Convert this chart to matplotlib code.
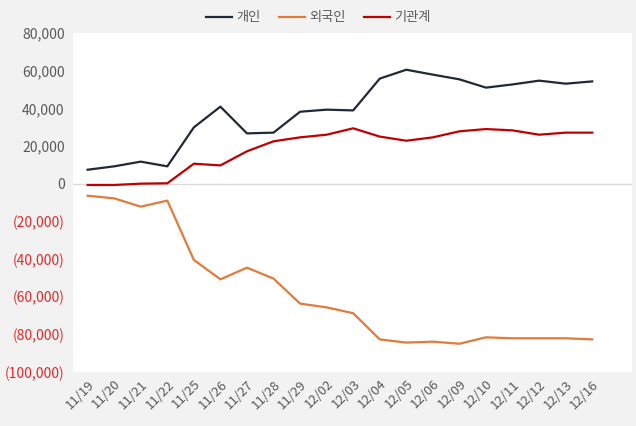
import matplotlib
matplotlib.use('Agg')
import matplotlib.pyplot as plt
from matplotlib.ticker import FuncFormatter

plt.rcParams['font.family'] = ['Noto Sans CJK KR', 'DejaVu Sans']

# === Data ===
dates = ['11/19', '11/20', '11/21', '11/22', '11/25', '11/26', '11/27', '11/28', '11/29', '12/02',
         '12/03', '12/04', '12/05', '12/06', '12/09', '12/10', '12/11', '12/12', '12/13', '12/16']
individual = [7400, 9200, 11700, 9200, 29900, 40900, 26700, 27100, 38200, 39300,
              38900, 55800, 60500, 57900, 55400, 51000, 52700, 54700, 53100, 54300]
foreign = [-6400, -7800, -12200, -9000, -40500, -50800, -44600, -50400, -63700, -65700,
           -68800, -82700, -84400, -83900, -85000, -81600, -82100, -82100, -82100, -82700]
institution = [-700, -700, 0, 200, 10600, 9700, 17200, 22500, 24600, 26000,
               29400, 25000, 22800, 24600, 27800, 29000, 28300, 26000, 27100, 27100]
series_names = ['개인', '외국인', '기관계']

# === Plot ===
fig = plt.figure(figsize=(6.36, 4.26), dpi=100, facecolor='#f2f2f2')
ax = fig.add_axes([0.1148, 0.1268, 0.879, 0.7957])
ax.set_facecolor('white')

x = list(range(len(dates)))
lines = []
for vals, color, name in zip([individual, foreign, institution],
                             ['#1f2937', '#e07b39', '#c00000'], series_names):
    ln, = ax.plot(x, vals, color=color, lw=1.6, label=name, zorder=3)
    lines.append(ln)

ax.axhline(0, color='#d9d9d9', lw=1, zorder=1)

ax.set_ylim(-100000, 80000)
ax.set_yticks(range(-100000, 80001, 20000))
ax.set_xlim(-0.55, len(dates) - 1 + 1.5)
ax.set_xticks(x)
ax.set_xticklabels(dates, rotation=45, ha='right', rotation_mode='anchor')


def fmt(v, pos):
    if v < 0:
        return f'({-v:,.0f})'
    return f'{v:,.0f}'


ax.yaxis.set_major_formatter(FuncFormatter(fmt))
for lbl, v in zip(ax.get_yticklabels(), ax.get_yticks()):
    lbl.set_color('#e02a2a' if v < 0 else '#595959')

ax.tick_params(axis='y', length=0, labelsize=10, pad=6)
ax.tick_params(axis='x', length=0, labelsize=9.5, colors='#595959', pad=4)
for s in ax.spines.values():
    s.set_visible(False)

fig.legend(handles=lines, loc='center', bbox_to_anchor=(0.5, 1 - 18 / 426), ncol=3,
           frameon=False, fontsize=9.5, handlelength=2.0, columnspacing=1.4,
           handletextpad=0.3, labelcolor='#595959')

fig.savefig('out.png', dpi=100, facecolor=fig.get_facecolor())
